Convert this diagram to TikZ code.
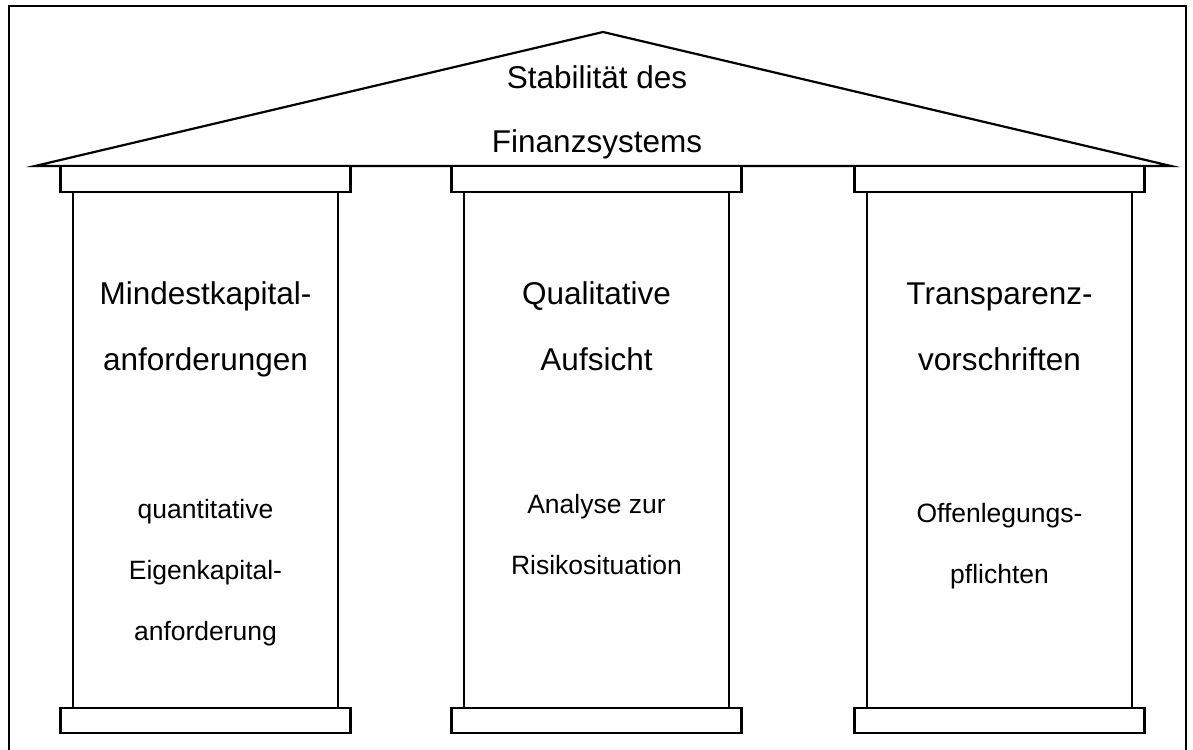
\documentclass[tikz,border=0pt]{standalone}
\usepackage{fontspec}
\setmainfont{Liberation Sans}
\tikzset{
bauteil/.style={draw, line width=2.2pt, fill=white},
dachtext/.style={align=center, inner sep=0pt,
    font=\fontsize{31.5}{63}\selectfont},
kopftext/.style={align=center, inner sep=0pt,
    font=\fontsize{31.5}{66}\selectfont},
fusstext/.style={align=center, inner sep=0pt,
    font=\fontsize{26.5}{61}\selectfont}
}

\begin{document}
\begin{tikzpicture}[x=1pt, y=-1pt]
	\useasboundingbox (0,0) rectangle (1193,749);
	% rahmen, unten offen
	\draw[line width=2.2pt] (9,760) -- (9,6) -- (1186,6) -- (1186,760);
	% dach
	\draw[bauteil, line join=miter] (35,166) -- (603,32) -- (1171,166) -- cycle;
	% drei saeulen
	\foreach \cx in {205.5, 596.5, 999.5} {
		\draw[bauteil] (\cx-145,166) rectangle (\cx+145,192);
		\draw[bauteil] (\cx-132.5,192) rectangle (\cx+132.5,708);
		\draw[bauteil] (\cx-145,708) rectangle (\cx+145,733);
	}
	% anchor=base sitzt auf der letzten zeile
	\node[dachtext, anchor=base] (dach) at (597,152) {Stabilität des\\Finanzsystems};

	\node[kopftext, anchor=base] (kapital) at (205.5,370) {Mindestkapital-\\anforderungen};
	\node[kopftext, anchor=base] (aufsicht) at (596.5,370) {Qualitative\\Aufsicht};
	\node[kopftext, anchor=base] (transparenz) at (999.5,370) {Transparenz-\\vorschriften};

	\node[fusstext, anchor=base] (eigenkapital) at (205.5,640) {quantitative\\Eigenkapital-\\anforderung};
	\node[fusstext, anchor=base] (analyse) at (596.5,574) {Analyse zur\\Risikosituation};
	\node[fusstext, anchor=base] (offenlegung) at (999.5,583) {Offenlegungs-\\pflichten};
\end{tikzpicture}
\end{document}
